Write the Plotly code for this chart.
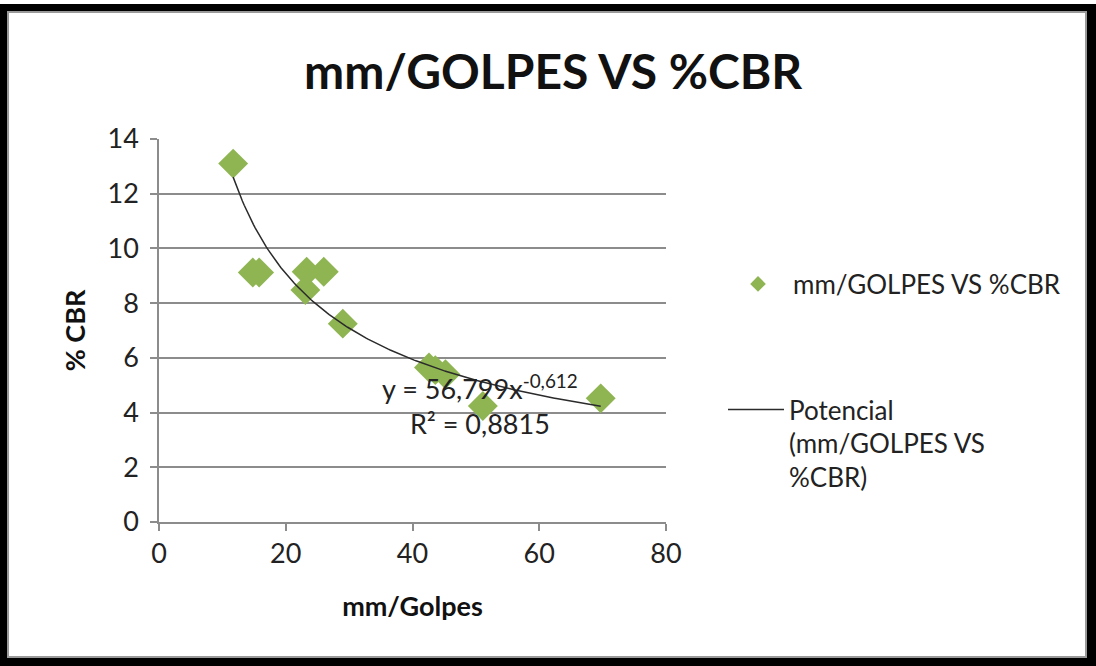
"""
CBR test: mm/golpes vs %CBR scatter with a power trend line (Excel style).
"""

import numpy as np
import plotly.graph_objects as go

# data
mm_golpes = [11.7, 14.8, 15.8, 23.3, 26.0, 23.1, 29.0, 42.6, 43.6, 45.2, 51.1, 69.7]
cbr = [13.1, 9.12, 9.12, 9.15, 9.15, 8.48, 7.25, 5.65, 5.55, 5.40, 4.24, 4.52]

# power trend line as printed on the chart: y = 56,799 x^-0,612
TREND_A = 56.799
TREND_B = -0.612
R2 = 0.8815

x_ticks = [0, 20, 40, 60, 80]
y_ticks = [0, 2, 4, 6, 8, 10, 12, 14]

FONT = "Lato, 'Open Sans', sans-serif"
GREEN = "#8FB553"
GRID = "#8C8C8C"

W, H = 1096, 666
PL, PR, PT, PB = 159, 666, 139, 522  # plot area in pixels


def px(x):
    return (x - PL) / (PR - PL)


def py(y):
    return (PB - y) / (PB - PT)


trend_x = np.linspace(min(mm_golpes), max(mm_golpes), 200)
trend_y = TREND_A * trend_x ** TREND_B

fig = go.Figure()

fig.add_trace(go.Scatter(
    x=mm_golpes, y=cbr,
    mode="markers",
    name="mm/GOLPES VS %CBR",
    marker=dict(symbol="diamond", size=23, color=GREEN),
    legend="legend",
))

fig.add_trace(go.Scatter(
    x=trend_x, y=trend_y,
    mode="lines",
    name="Potencial<br>(mm/GOLPES VS<br>%CBR)",
    line=dict(color="#2b2b2b", width=1.5),
    legend="legend2",
))

fig.update_layout(
    width=W, height=H, autosize=False,
    margin=dict(l=PL, r=W - PR, t=PT, b=H - PB, pad=0),
    paper_bgcolor="white",
    plot_bgcolor="#EEF1E8",
    font=dict(family=FONT, color="#222222"),
    showlegend=True,
    legend=dict(
        x=px(723), y=py(284), xanchor="left", yanchor="middle",
        font=dict(size=26, color="#222222"), itemwidth=60,
        bgcolor="rgba(0,0,0,0)", itemsizing="constant",
    ),
    legend2=dict(
        x=px(723), y=py(386), xanchor="left", yanchor="top",
        font=dict(size=26, color="#222222"), valign="top",
        bgcolor="rgba(0,0,0,0)", itemwidth=56,
    ),
)

fig.update_xaxes(
    range=[0, 80], tickvals=x_ticks,
    showgrid=False, zeroline=False,
    showline=True, linecolor=GRID, linewidth=1.5,
    ticks="outside", ticklen=7, tickcolor=GRID, tickwidth=1.5,
    tickfont=dict(size=27, color="#222222"),
    title=dict(text="<b>mm/Golpes</b>", font=dict(size=27, color="#111111"), standoff=29),
)

fig.update_yaxes(
    range=[0, 14], tickvals=y_ticks,
    showgrid=True, gridcolor=GRID, gridwidth=1.5, zeroline=False,
    showline=True, linecolor=GRID, linewidth=1.5,
    ticks="outside", ticklen=7, tickcolor=GRID, tickwidth=1.5,
    tickfont=dict(size=27, color="#222222"),
    ticklabelstandoff=6,
    title=dict(text="<b>% CBR</b>", font=dict(size=27, color="#111111"), standoff=14),
)

# black frame around the chart, then the white chart area
fig.add_shape(type="rect", xref="paper", yref="paper", layer="below",
              x0=px(0), x1=px(W), y0=py(H), y1=py(4),
              fillcolor="black", line=dict(width=0))
fig.add_shape(type="rect", xref="paper", yref="paper", layer="below",
              x0=px(8), x1=px(1086), y0=py(657), y1=py(12),
              fillcolor="white", line=dict(color="#9a9a9a", width=2))

fig.add_annotation(
    text="<b>mm/GOLPES VS %CBR</b>", xref="paper", yref="paper",
    x=px(553), y=py(70), xanchor="center", yanchor="middle", showarrow=False,
    font=dict(size=48, color="#111111"),
)
fig.add_annotation(
    text=f"y = 56,799x<sup>-0,612</sup><br>R² = {R2:.4f}".replace(".", ","),
    xref="paper", yref="paper", align="center",
    x=px(480), y=py(404), xanchor="center", yanchor="middle", showarrow=False,
    font=dict(size=27, color="#222222"),
)

fig.write_html("out.html", config={"displayModeBar": False},
               post_script="document.body.style.margin='0';")
